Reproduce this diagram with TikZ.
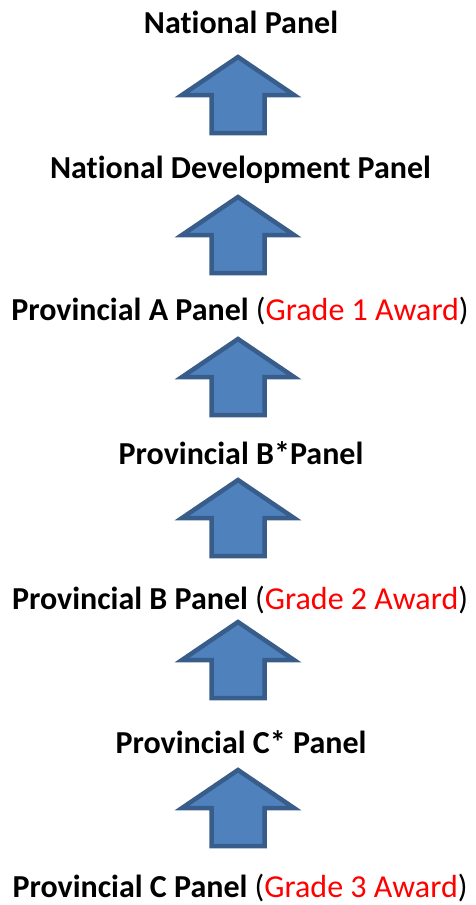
\documentclass[tikz,border=0pt]{standalone}
\usepackage{fontspec}
\setmainfont{Carlito}[Ligatures=NoCommon]
\definecolor{arrfill}{HTML}{4F81BD}
\definecolor{arrline}{HTML}{385D8A}
\definecolor{awardred}{HTML}{FF0000}
\begin{document}
\begin{tikzpicture}[x=1pt,y=-1pt,
  label/.style={anchor=base,inner sep=0pt,font=\fontsize{32}{36}\selectfont},
  uparrow/.pic={\draw[line width=4.5pt,draw=arrline,fill=arrfill,line join=miter]
     (0,0) -- (56,38) -- (26.5,38) -- (26.5,76) -- (-26.5,76) -- (-26.5,38) -- (-56,38) -- cycle;}
]
\useasboundingbox (0,0) rectangle (475,905);
\node[label] (n1) at (241,33) {\textbf{National Panel}};
\node[label] (n2) at (240.5,178) {\textbf{National Development Panel}};
\node[label] (n3) at (240,320) {\textbf{Provincial A Panel} (\textcolor{awardred}{Grade 1 Award})};
\node[label] (n4) at (241,464) {\textbf{Provincial B*Panel}};
\node[label] (n5) at (240,609) {\textbf{Provincial B Panel} (\textcolor{awardred}{Grade 2 Award})};
\node[label] (n6) at (241,753) {\textbf{Provincial C* Panel}};
\node[label] (n7) at (240,897) {\textbf{Provincial C Panel} (\textcolor{awardred}{Grade 3 Award})};
\pic at (238,57) {uparrow};
\pic at (238,197) {uparrow};
\pic at (238,339) {uparrow};
\pic at (238,480) {uparrow};
\pic at (238,622) {uparrow};
\pic at (238,770) {uparrow};
\end{tikzpicture}
\end{document}
